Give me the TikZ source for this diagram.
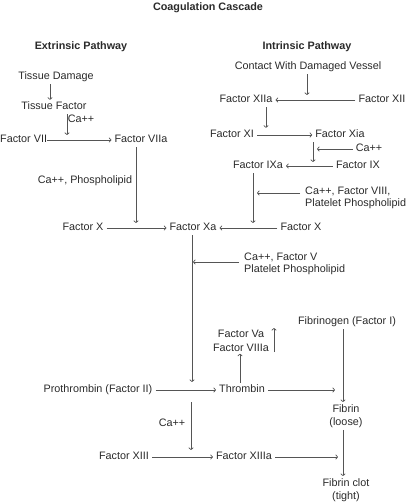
\documentclass[tikz,border=0pt]{standalone}
\usepackage{fontspec}
\setmainfont{Liberation Sans}
\usetikzlibrary{arrows.meta}
\definecolor{txt}{HTML}{2A2A2A}
\definecolor{ln}{HTML}{555555}
\begin{document}
\begin{tikzpicture}[x=1pt,y=-1pt,
  lbl/.style={font=\fontsize{10.8}{12.5}\selectfont, text=txt, inner xsep=3pt, inner ysep=2pt, text height=7.8pt, text depth=2.2pt},
  lbl2/.style={font=\fontsize{10.8}{13.5}\selectfont, text=txt, inner sep=2pt, align=center},
  lblL/.style={font=\fontsize{10.8}{11.5}\selectfont, text=txt, inner sep=0pt, align=left, anchor=west},
  hdr/.style={font=\fontsize{10.8}{12.5}\selectfont\bfseries, text=txt, inner sep=0pt},
  arr/.style={draw=ln, line width=0.7pt, -{To[length=2.6pt,width=5pt]}}]
\useasboundingbox (0,0) rectangle (411,503);
% headers
\node[hdr] (title) at (208,8) {Coagulation Cascade};
\node[hdr] (ext) at (81,47) {Extrinsic Pathway};
\node[hdr] (int) at (307,47) {Intrinsic Pathway};
% extrinsic
\node[lbl] (td) at (56,77) {Tissue Damage};
\node[lbl] (tf) at (54,107) {Tissue Factor};
\node[lbl, anchor=west, inner xsep=0pt] (f7) at (0,140) {Factor VII};
\node[lbl] (f7a) at (141,140) {Factor VIIa};
\node[lbl] (cap1) at (85,181) {Ca++, Phospholipid};
\node[lbl] (fx1) at (83,228) {Factor X};
\node[lbl] (fxa) at (193,228) {Factor Xa};
\node[lblL] (cav) at (244,264) {Ca++, Factor V\\Platelet Phospholipid};
\node[lbl, inner xsep=0pt] (ca1) at (81,120) {Ca++};
% intrinsic
\node[lbl] (cwdv) at (308,67) {Contact With Damaged Vessel};
\node[lbl] (f12a) at (246,100) {Factor XIIa};
\node[lbl] (f12) at (382,100) {Factor XII};
\node[lbl] (f11) at (232,135) {Factor XI};
\node[lbl] (f11a) at (340,135) {Factor Xia};
\node[lbl] (ca2) at (369,149) {Ca++};
\node[lbl] (f9a) at (258,166) {Factor IXa};
\node[lbl] (f9) at (358,166) {Factor IX};
\node[lblL] (ca8) at (305,198) {Ca++, Factor VIII,\\Platelet Phospholipid};
\node[lbl] (fx2) at (301,228) {Factor X};
% common
\node[lbl] (pro) at (98,390) {Prothrombin (Factor II)};
\node[lbl] (thr) at (242,390) {Thrombin};
\node[lbl2] (f5) at (241,341) {Factor Va\\Factor VIIIa};
\node[lbl] (fib) at (347,322) {Fibrinogen (Factor I)};
\node[lbl2] (fl) at (346,416) {Fibrin\\(loose)};
\node[lbl2] (fct) at (346,490) {Fibrin clot\\(tight)};
\node[lbl] (ca3) at (172,424) {Ca++};
\node[lbl] (f13) at (124,457) {Factor XIII};
\node[lbl] (f13a) at (244,457) {Factor XIIIa};
% junction coordinates
\coordinate (xa) at (50,0);
\coordinate (j1) at (67,135);
\coordinate (j2) at (136,223);
\coordinate (j3) at (192,382);
\coordinate (j3m) at (193,262);
\coordinate (j4) at (307,95);
\coordinate (xb) at (266,0);
\coordinate (j5) at (313,162);
\coordinate (j5m) at (317,149);
\coordinate (j6) at (253,223);
\coordinate (j6m) at (257,193);
\coordinate (xf5) at (240,0);
\coordinate (up1) at (274,352);
\coordinate (up2) at (274,328);
\coordinate (xfib) at (343,0);
\coordinate (t1) at (335,390);
\coordinate (t2) at (338,457);
\coordinate (c1) at (191,402);
\coordinate (c2) at (191,450);
% extrinsic connectors
\draw[arr] (td.south -| xa) -- (tf.north -| xa);
\draw[arr] (tf.south -| j1) -- (j1);
\draw[arr] (f7) -- (f7a);
\draw[arr] (f7a.south -| j2) -- (j2);
\draw[arr] (fx1) -- (fxa);
\draw[arr] (fxa.south -| j3) -- (j3);
\draw[arr] (cav.west |- j3m) ++(-5,0) -- (j3m);
% intrinsic connectors
\draw[arr] (cwdv.south -| j4) -- (j4);
\draw[arr] (f12) -- (f12a);
\draw[arr] (f12a.south -| xb) -- (f11.north -| xb);
\draw[arr] (f11) -- (f11a);
\draw[arr] (f11a.south -| j5) -- (j5);
\draw[arr] (ca2.west |- j5m) -- (j5m);
\draw[arr] (f9) -- (f9a);
\draw[arr] (f9a.south -| j6) -- (j6);
\draw[arr] (ca8.west |- j6m) ++(-5,0) -- (j6m);
\draw[arr] (fx2) -- (fxa);
% common connectors
\draw[arr] (pro) -- (thr);
\draw[arr] (thr.north -| xf5) -- (f5.south -| xf5);
\draw[arr] (up1) -- (up2);
\draw[arr] (thr) -- (t1);
\draw[arr] (fib.south -| xfib) -- (fl.north -| xfib);
\draw[arr] (fl.south -| xfib) -- (fct.north -| xfib);
\draw[arr] (c1) -- (c2);
\draw[arr] (f13) -- (f13a);
\draw[arr] (f13a) -- (t2);
\end{tikzpicture}
\end{document}
